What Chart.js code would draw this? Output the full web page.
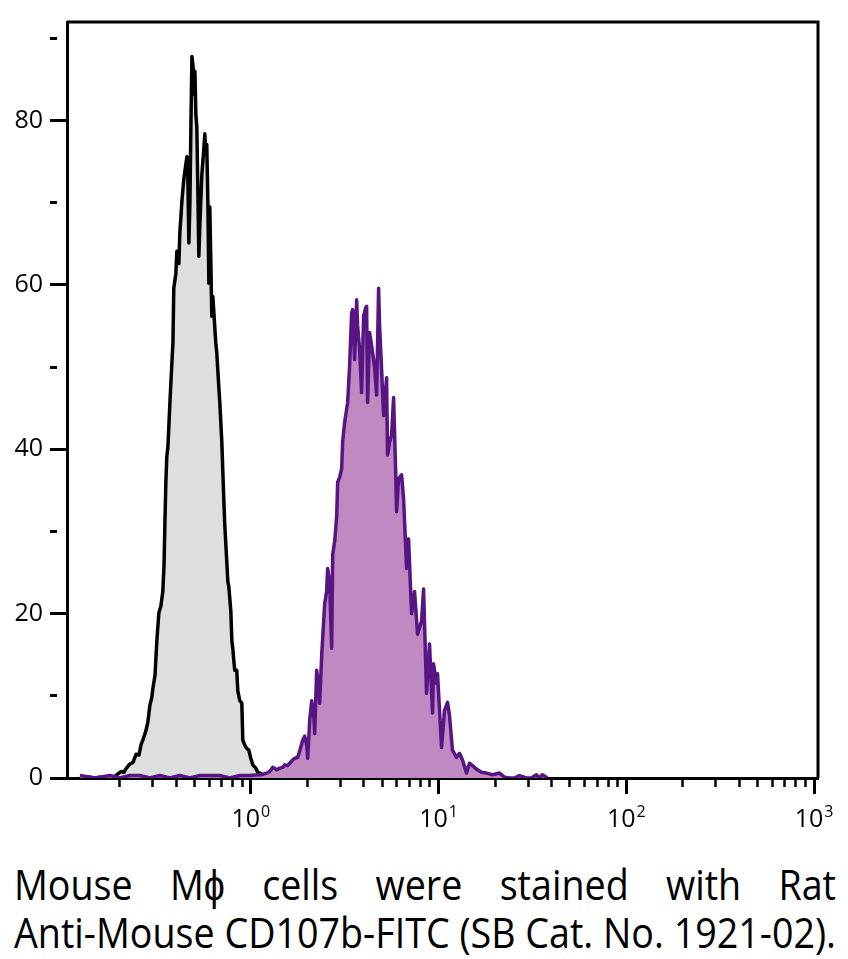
<!DOCTYPE html>
<html>
<head>
<meta charset="utf-8">
<script src="https://cdn.jsdelivr.net/npm/chart.js@4.4.1/dist/chart.umd.min.js"></script>
<style>
  body { margin: 0; background: #fff; }
  #wrap { position: relative; width: 848px; height: 959px; overflow: hidden; }
  #c { position: absolute; left: 0; top: 0; }
  #caption {
    position: absolute; left: 14px; top: 860px;
    font-family: "Open Sans", sans-serif; font-size: 42px; line-height: 48px;
    color: #000; transform-origin: 0 0; white-space: nowrap;
  }
  #line1 { text-align: justify; text-align-last: justify; white-space: normal; }
</style>
</head>
<body>
<div id="wrap">
  <canvas id="c" width="848" height="850"></canvas>
  <div id="caption">
    <div id="line1">Mouse Mϕ cells were stained with Rat</div>
    <div><span id="line2">Anti-Mouse CD107b-FITC (SB Cat. No. 1921-02).</span></div>
  </div>
</div>
<script>
// isotype control histogram (gray)
const grayX = [0.123,0.131,0.139,0.148,0.157,0.167,0.178,0.189,0.196,0.204,
  0.211,0.219,0.227,0.236,0.245,0.254,0.260,0.266,0.276,0.283,
  0.290,0.297,0.301,0.309,0.316,0.324,0.332,0.340,0.345,0.349,
  0.353,0.357,0.362,0.371,0.380,0.385,0.389,0.399,0.404,0.414,
  0.419,0.430,0.440,0.451,0.457,0.462,0.468,0.474,0.480,0.486,
  0.492,0.498,0.504,0.510,0.516,0.523,0.529,0.536,0.549,0.556,
  0.562,0.569,0.576,0.583,0.591,0.598,0.605,0.613,0.620,0.628,
  0.636,0.651,0.659,0.676,0.684,0.701,0.719,0.727,0.745,0.755,
  0.764,0.783,0.793,0.802,0.812,0.822,0.842,0.853,0.874,0.896,
  0.907,0.929,0.952,0.976,1.0,1.025,1.063,1.090,1.117,1.158,
  1.187,1.216,1.262]
const grayY = [0.1,0,0.1,0,0.1,0,0.1,0.2,0.5,0.8,
  0.7,1.3,1.7,1.9,2.9,2.8,4.0,4.6,5.7,6.8,
  8.8,9.8,10.9,12.5,16.7,20.1,20.9,22.7,25.8,31.2,
  36.0,39.1,40.3,45.7,50.5,53.0,59.6,61.4,64.1,62.6,
  66.3,70.3,72.9,74.7,75.6,73.5,65.1,69.9,79.6,87.8,
  86.8,83.2,86.0,80.8,79.2,71.1,63.5,67.5,73.5,75.1,
  76.5,78.4,75.9,77.1,69.9,60.2,69.5,62.6,56.2,58.6,
  56.6,53.0,51.8,47.5,45.7,40.9,33.6,30.8,26.4,23.9,
  23.3,20.3,16.7,15.8,14.3,13.1,13.1,10.6,9.4,9.1,
  4.6,4.0,3.6,3.4,2.4,1.6,1.2,0.7,0.6,0.4,
  0.2,0.1,0]

// CD107b stained histogram (purple)
const purpleX = [0.123,0.148,0.178,0.201,0.227,0.257,0.290,0.328,0.371,0.419,
  0.474,0.536,0.605,0.684,0.773,0.874,0.988,1.090,
  1.144,1.216,1.262,1.309,1.375,1.427,1.480,1.517,1.573,1.612,
  1.673,1.714,1.778,1.823,1.890,1.938,1.986,2.010,2.060,2.111,
  2.164,2.190,2.244,2.300,2.328,2.386,2.475,2.536,2.567,2.631,
  2.697,2.731,2.798,2.867,2.903,2.975,3.048,3.086,3.162,3.281,
  3.362,3.445,3.488,3.574,3.663,3.708,3.800,3.894,3.991,4.090,
  4.140,4.191,4.295,4.402,4.511,4.566,4.680,4.796,4.855,4.976,
  5.099,5.289,5.354,5.487,5.623,5.763,5.907,5.979,6.127,6.357,
  6.514,6.595,6.758,6.925,7.186,7.454,7.731,8.123,8.324,8.634,
  8.956,9.293,9.407,9.759,9.879,10.38,10.76,11.17,11.44,11.87,
  12.47,12.93,13.42,14.09,14.62,15.54,16.12,16.93,18.00,19.38,
  21.12,22.45,23.86,25.37,26.97,29.38,31.24,33.21,34.45,35.74,
  37.99]
const purpleY = [0.3,0,0.3,0,0.3,0.3,0,0.3,0,0.3,
  0,0.3,0.3,0.3,0,0.3,0.3,0.4,
  0.4,0.6,0.8,1.3,1.0,1.2,1.3,1.6,1.5,1.8,
  2.2,2.4,2.5,3.3,4.6,5.1,4.0,2.4,7.0,9.4,
  7.6,5.4,13.1,11.2,9.1,14.9,21.2,22.7,25.5,23.9,
  15.8,27.2,28.8,31.8,36.0,36.6,37.6,40.9,43.3,45.7,
  50.2,56.6,57.0,50.9,58.2,55.0,52.1,46.9,56.2,57.2,
  57.4,45.7,54.2,52.6,50.9,49.9,46.6,59.6,55.0,49.7,
  44.1,48.7,39.3,40.9,41.7,46.3,37.6,32.4,36.4,36.9,
  34.0,31.2,25.5,29.1,20.0,22.7,17.5,19.1,23.0,10.3,
  16.3,7.9,13.9,11.5,12.7,3.7,8.2,9.2,7.6,3.4,
  2.5,3.0,2.2,0.6,1.8,1.3,1.0,0.7,0.6,0.4,
  0.6,0.1,0,0,0.3,0,0,0.4,0,0.4,
  0]

// ticks
const xMajorTicks = [1, 10, 100, 1000]
const yTicks = [0, 10, 20, 30, 40, 50, 60, 70, 80, 90]
const yLabelTicks = [0, 20, 40, 60, 80]

const FONT = '"Open Sans", sans-serif'

function toPoints(xs, ys) {
  return xs.map((x, i) => ({ x: x, y: ys[i] }))
}

function isMajor(v) {
  return xMajorTicks.some((m) => Math.abs(m - v) / m < 1e-6)
}

// box lines on top and right + "10^n" labels
const frame = {
  id: "frame",
  afterDraw(chart) {
    const ctx = chart.ctx
    const a = chart.chartArea
    ctx.save()
    ctx.strokeStyle = "#000"
    ctx.lineWidth = 3
    ctx.beginPath()
    ctx.moveTo(a.left, a.top)
    ctx.lineTo(a.right, a.top)
    ctx.lineTo(a.right, a.bottom)
    ctx.stroke()

    const xs = chart.scales.x
    ctx.fillStyle = "#000"
    ctx.textBaseline = "alphabetic"
    ctx.textAlign = "left"
    xMajorTicks.forEach((v) => {
      const px = xs.getPixelForValue(v)
      const exp = String(Math.round(Math.log10(v)))
      ctx.font = "25px " + FONT
      const w1 = ctx.measureText("10").width
      ctx.font = "16px " + FONT
      const w2 = ctx.measureText(exp).width
      const start = px - (w1 + w2 + 1) / 2
      ctx.font = "25px " + FONT
      ctx.fillText("10", start, a.bottom + 49)
      ctx.font = "16px " + FONT
      ctx.fillText(exp, start + w1 + 1, a.bottom + 39)
    })
    ctx.restore()
  },
}

new Chart(document.querySelector("#c"), {
  type: "line",
  data: {
    datasets: [
      {
        label: "Isotype",
        data: toPoints(grayX, grayY),
        borderColor: "#000000",
        backgroundColor: "#dedede",
        borderWidth: 3.5,
        borderJoinStyle: "round",
        fill: "origin",
        pointRadius: 0,
        tension: 0,
        clip: 0,
        order: 2,
      },
      {
        label: "CD107b-FITC",
        data: toPoints(purpleX, purpleY),
        borderColor: "#561583",
        backgroundColor: "#c089c1",
        borderWidth: 3.5,
        borderJoinStyle: "round",
        fill: "origin",
        pointRadius: 0,
        tension: 0,
        clip: 0,
        order: 1,
      },
    ],
  },
  options: {
    responsive: false,
    animation: false,
    layout: { padding: { top: 16, right: 30, left: 0, bottom: 0 } },
    plugins: { legend: { display: false }, tooltip: { enabled: false } },
    scales: {
      x: {
        type: "logarithmic",
        min: 0.105,
        max: 1050,
        z: 1,
        border: { display: true, color: "#000", width: 3 },
        grid: {
          drawOnChartArea: false,
          tickLength: 16,
          tickColor: "#000",
          tickWidth: (c) => (c.tick && isMajor(c.tick.value) ? 3 : 2.5),
          tickBorderDash: (c) => (c.tick && isMajor(c.tick.value) ? [] : [7, 40]),
        },
        afterBuildTicks(scale) {
          const t = []
          for (let e = -1; e <= 3; e++) {
            for (let m = 1; m <= 9; m++) {
              const v = m * Math.pow(10, e)
              if (v >= scale.min && v <= scale.max) t.push({ value: v })
            }
          }
          scale.ticks = t
        },
        afterFit(scale) {
          scale.height = 72
        },
        ticks: { autoSkip: false, maxRotation: 0, callback: () => "" },
      },
      y: {
        type: "linear",
        min: 0,
        max: 92,
        z: 1,
        border: { display: true, color: "#000", width: 3 },
        grid: {
          drawOnChartArea: false,
          tickLength: 17,
          tickColor: "#000",
          tickWidth: 3,
          tickBorderDash: (c) => (c.tick && yLabelTicks.includes(c.tick.value) ? [] : [7, 40]),
        },
        afterBuildTicks(scale) {
          scale.ticks = yTicks.map((v) => ({ value: v }))
        },
        afterFit(scale) {
          scale.width = 67
        },
        ticks: {
          autoSkip: false,
          padding: 7,
          color: "#000",
          font: { family: FONT, size: 25 },
          callback: (v) => (yLabelTicks.includes(v) ? String(v) : ""),
        },
      },
    },
  },
  plugins: [frame],
})

// fit caption to the plot width
const cap = document.querySelector("#caption")
const w2 = document.querySelector("#line2").getBoundingClientRect().width
cap.style.width = w2 + "px"
cap.style.transform = "scaleX(" + 822 / w2 + ")"
</script>
</body>
</html>
